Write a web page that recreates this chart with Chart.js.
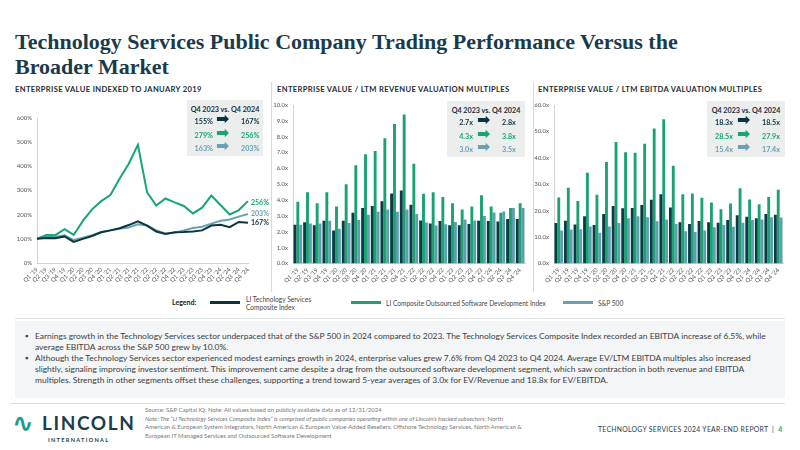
<!DOCTYPE html>
<html><head><meta charset="utf-8">
<script src="https://cdn.jsdelivr.net/npm/chart.js@4"></script>
<style>
html,body{margin:0;padding:0;background:#fff;}
#page{position:relative;width:800px;height:450px;overflow:hidden;font-family:Lato,"Open Sans",sans-serif;}
.abs{position:absolute;}
.title{left:15px;top:29px;font-family:"Liberation Serif",serif;font-weight:bold;font-size:22px;line-height:25px;color:#1a3b4b;white-space:nowrap;}
.sub{top:84px;font-weight:bold;font-size:7.6px;letter-spacing:0.35px;color:#1f2d36;white-space:nowrap;}
.vsep{width:1px;background:#d6dadc;top:82px;height:210px;}
canvas{position:absolute;}
.box{background:#eceeee;font-weight:bold;font-size:7.2px;}
.box .hd{position:absolute;left:0;right:0;top:5px;text-align:center;color:#1d2f3a;}
.row{position:absolute;left:0;right:0;height:10px;}
.row .a{position:absolute;width:28px;text-align:right;}
.row .b{position:absolute;}
.row .arr{position:absolute;font-size:16px;top:-8px;font-family:"DejaVu Sans",sans-serif;}
.leg{top:295px;font-size:6.6px;color:#444;line-height:8px;white-space:nowrap;}
.legline{height:2.5px;top:301px;}
.hline{background:#dde1e3;height:1px;}
.txtbox{left:15px;top:321px;width:770px;height:77px;background:#f3f5f6;}
.bul{left:25px;font-size:8.45px;color:#3d3d3d;line-height:11px;white-space:nowrap;}
.bul span.dot{position:absolute;left:0;top:0;}
.bul div.t{position:absolute;left:10px;top:0;}
.foot{font-size:6px;color:#777;line-height:8.6px;white-space:nowrap;}
</style></head>
<body><div id="page">
<div class="abs title">Technology Services Public Company Trading Performance Versus the<br>Broader Market</div>
<div class="abs sub" style="left:15px">ENTERPRISE VALUE INDEXED TO JANUARY 2019</div>
<div class="abs sub" style="left:277px">ENTERPRISE VALUE / LTM REVENUE VALUATION MULTIPLES</div>
<div class="abs sub" style="left:538px">ENTERPRISE VALUE / LTM EBITDA VALUATION MULTIPLES</div>
<div class="abs vsep" style="left:271px"></div>
<div class="abs vsep" style="left:533px"></div>

<canvas id="c1" width="272" height="195" style="left:0;top:95px"></canvas>
<canvas id="c2" width="262" height="195" style="left:272px;top:95px"></canvas>
<canvas id="c3" width="266" height="195" style="left:534px;top:95px"></canvas>

<div id="boxes"></div>

<div class="abs" style="left:172px;top:298px;font-size:7px;font-weight:bold;color:#222">Legend:</div>
<div class="abs legline" style="left:210px;width:30px;background:#0c3440"></div>
<div class="abs leg" style="left:246px">LI Technology Services<br>Composite Index</div>
<div class="abs legline" style="left:351px;width:30px;background:#17a673"></div>
<div class="abs leg" style="left:386px;top:299px">LI Composite Outsourced Software Development Index</div>
<div class="abs legline" style="left:563px;width:30px;background:#6aa2b3"></div>
<div class="abs leg" style="left:598px;top:299px">S&amp;P 500</div>

<div class="abs hline" style="left:15px;width:770px;top:318px"></div>
<div class="abs txtbox"></div>
<div class="abs bul" style="top:331px"><span class="dot">▪</span><div class="t">Earnings growth in the Technology Services sector underpaced that of the S&amp;P 500 in 2024 compared to 2023. The Technology Services Composite Index recorded an EBITDA increase of 6.5%, while<br>average EBITDA across the S&amp;P 500 grew by 10.0%.</div></div>
<div class="abs bul" style="top:353px"><span class="dot">▪</span><div class="t">Although the Technology Services sector experienced modest earnings growth in 2024, enterprise values grew 7.6% from Q4 2023 to Q4 2024. Average EV/LTM EBITDA multiples also increased<br>slightly, signaling improving investor sentiment. This improvement came despite a drag from the outsourced software development segment, which saw contraction in both revenue and EBITDA<br>multiples. Strength in other segments offset these challenges, supporting a trend toward 5-year averages of 3.0x for EV/Revenue and 18.8x for EV/EBITDA.</div></div>

<div class="abs hline" style="left:10px;width:775px;top:403px"></div>
<div class="abs" style="left:12px;top:410px;font-size:26px;color:#1f9a8a;font-family:'DejaVu Sans',sans-serif;font-weight:bold;line-height:26px">∿</div>
<div class="abs" style="left:42px;top:413px;font-size:19px;font-weight:bold;letter-spacing:1.6px;color:#1d3c4c;line-height:20px">LINCOLN</div>
<div class="abs" style="left:48px;top:436px;font-size:5.6px;letter-spacing:1.3px;color:#1d3c4c;font-weight:bold">INTERNATIONAL</div>
<div class="abs foot" style="left:145px;top:406px">Source: S&amp;P Capital IQ; Note: All values based on publicly available data as of 12/31/2024<br><i>Note: The “LI Technology Services Composite Index” is comprised of public companies operating within one of Lincoln's tracked subsectors:</i> North<br>American &amp; European System Integrators, North American &amp; European Value-Added Resellers, Offshore Technology Services, North American &amp;<br>European IT Managed Services and Outsourced Software Development</div>
<div class="abs" style="left:598px;top:425px;font-size:6.8px;letter-spacing:0.3px;color:#1d3c4c;white-space:nowrap">TECHNOLOGY SERVICES 2024 YEAR-END REPORT &nbsp;| &nbsp;<b style="color:#17a673">4</b></div>
</div>
<script>
const quarters = ["Q1 '19","Q2 '19","Q3 '19","Q4 '19","Q1 '20","Q2 '20","Q3 '20","Q4 '20","Q1 '21","Q2 '21","Q3 '21","Q4 '21","Q1 '22","Q2 '22","Q3 '22","Q4 '22","Q1 '23","Q2 '23","Q3 '23","Q4 '23","Q1 '24","Q2 '24","Q3 '24","Q4 '24"];
const seriesNames = ["LI Technology Services Composite Index","LI Composite Outsourced Software Development Index","S&P 500"];

// Enterprise value indexed to Jan 2019 (%)
const evIndexTech = [100,103,102,110,87,100,112,127,135,144,157,172,155,130,120,127,128,130,135,155,158,148,170,167];
const evIndexOsd  = [100,116,115,140,116,174,222,256,281,349,411,489,292,238,267,251,236,205,229,279,240,201,219,256];
const evIndexSp   = [100,110,108,115,95,105,115,128,135,142,147,160,155,135,122,125,135,145,150,163,175,180,192,203];

// EV / LTM Revenue (x)
const evRevTech = [2.45,2.6,2.42,2.7,2.08,2.7,3.2,3.5,3.62,3.93,4.42,4.6,3.7,2.72,2.52,2.68,2.42,2.42,2.5,2.7,2.68,2.65,2.8,2.8];
const evRevOsd  = [3.9,4.5,3.8,4.5,3.6,5.0,6.2,6.9,7.1,7.9,8.8,9.4,6.3,4.4,4.5,4.2,3.8,3.4,3.6,4.3,3.6,3.2,3.5,3.8];
const evRevSp   = [2.45,2.52,2.52,2.7,2.2,2.56,2.75,3.08,3.27,3.4,3.27,3.4,3.12,2.58,2.4,2.48,2.62,2.77,2.72,3.0,3.22,3.28,3.5,3.5];

// EV / LTM EBITDA (x)
const evEbitdaTech = [15.3,16.2,14.8,17.9,14.6,18.7,21.8,20.9,21.0,22.1,24.1,26.2,21.2,15.6,15.0,16.1,15.6,15.4,16.5,18.3,17.7,17.1,18.7,18.5];
const evEbitdaOsd  = [25.0,28.7,23.7,34.4,26.0,38.4,46.0,42.1,41.9,45.3,51.1,54.6,37.0,26.2,26.5,24.9,23.1,20.5,22.7,28.5,24.2,22.4,25.2,27.9];
const evEbitdaSp   = [12.5,12.9,13.0,14.0,11.6,14.0,15.3,17.1,17.9,17.5,16.0,16.7,15.0,12.2,11.9,12.5,13.7,14.6,13.9,15.4,16.5,16.7,17.5,17.4];

const DARK = '#0c3440', GREEN = '#17a673', LIGHT = '#6aa2b3';
const BDARK = '#0b3c44', BGREEN = '#19a274', BLIGHT = '#5e9fae';
const tickFont = {family:'Lato', size:6};
const tickColor = '#555';

const endLabels = {
  id:'endLabels',
  afterDatasetsDraw(chart){
    const ctx = chart.ctx;
    ctx.save();
    ctx.font = 'bold 7px Lato';
    ctx.textBaseline = 'middle';
    chart.data.datasets.forEach((ds,i)=>{
      const meta = chart.getDatasetMeta(i);
      const p = meta.data[meta.data.length-1];
      ctx.fillStyle = ds.borderColor;
      ctx.fillText(ds.data[ds.data.length-1]+'%', p.x+3, p.y + (ds.dy||0));
    });
    ctx.restore();
  }
};

function xScale(h){
  return {grid:{display:false,drawTicks:false}, border:{color:'#cfd3d5'},
    ticks:{font:tickFont,color:tickColor,maxRotation:45,minRotation:45,autoSkip:false,padding:3},
    afterFit(s){s.height=h;}};
}
function yScale(w,max,step,fmt){
  return {min:0,max:max,grid:{display:false,drawTicks:false}, border:{color:'#cfd3d5'},
    ticks:{stepSize:step,font:tickFont,color:tickColor,padding:5,callback:fmt},
    afterFit(s){s.width=w;}};
}

new Chart(document.getElementById('c1'),{
  type:'line',
  data:{labels:quarters,datasets:[
    {label:seriesNames[0],data:evIndexTech,borderColor:DARK,borderWidth:2,pointRadius:0,tension:0,dy:0},
    {label:seriesNames[1],data:evIndexOsd,borderColor:GREEN,borderWidth:2,pointRadius:0,tension:0,dy:2},
    {label:seriesNames[2],data:evIndexSp,borderColor:LIGHT,borderWidth:2,pointRadius:0,tension:0,dy:0}
  ]},
  options:{responsive:false,animation:false,
    layout:{padding:{top:23,right:24,left:0,bottom:0}},
    plugins:{legend:{display:false},tooltip:{enabled:false}},
    scales:{x:xScale(27), y:yScale(37,600,100,v=>v+'%')}},
  plugins:[endLabels]
});

function barChart(id,d1,d2,d3,max,step,yw,padR){
  return new Chart(document.getElementById(id),{
    type:'bar',
    data:{labels:quarters,datasets:[
      {label:seriesNames[0],data:d1,backgroundColor:BDARK},
      {label:seriesNames[1],data:d2,backgroundColor:BGREEN},
      {label:seriesNames[2],data:d3,backgroundColor:BLIGHT}
    ]},
    options:{responsive:false,animation:false,
      datasets:{bar:{categoryPercentage:0.9,barPercentage:1.0}},
      layout:{padding:{top:10,right:padR,left:0,bottom:0}},
      plugins:{legend:{display:false},tooltip:{enabled:false}},
      scales:{x:xScale(26.5), y:yScale(yw,max,step,v=>v.toFixed(1)+'x')}}
  });
}
barChart('c2',evRevTech,evRevOsd,evRevSp,10,1,21,9);
barChart('c3',evEbitdaTech,evEbitdaOsd,evEbitdaSp,60,10,20,17);

// comparison boxes built from data (Q4 2023 = index 19, Q4 2024 = index 23)
function box(left,top,w,h,sets,fmt){
  let html = `<div class="abs box" style="left:${left}px;top:${top}px;width:${w}px;height:${h}px"><div class="hd">Q4 2023 vs. Q4 2024</div>`;
  const cols=[DARK,GREEN,LIGHT];
  sets.forEach((arr,i)=>{
    const y = 17 + i*13.5;
    html += `<div class="row" style="top:${y}px;color:${cols[i]}"><span class="a" style="left:-2px">${fmt(arr[19])}</span><span class="arr" style="left:${w/2-9}px">➡</span><span class="b" style="left:${w/2+16}px">${fmt(arr[23])}</span></div>`;
  });
  html += '</div>';
  return html;
}
document.getElementById('boxes').innerHTML =
  box(187,100,76,56,[evIndexTech,evIndexOsd,evIndexSp],v=>v+'%') +
  box(447,101,78,56,[evRevTech,evRevOsd,evRevSp],v=>v.toFixed(1)+'x') +
  box(707,101,78,56,[evEbitdaTech,evEbitdaOsd,evEbitdaSp],v=>v.toFixed(1)+'x');
</script>
</body></html>
